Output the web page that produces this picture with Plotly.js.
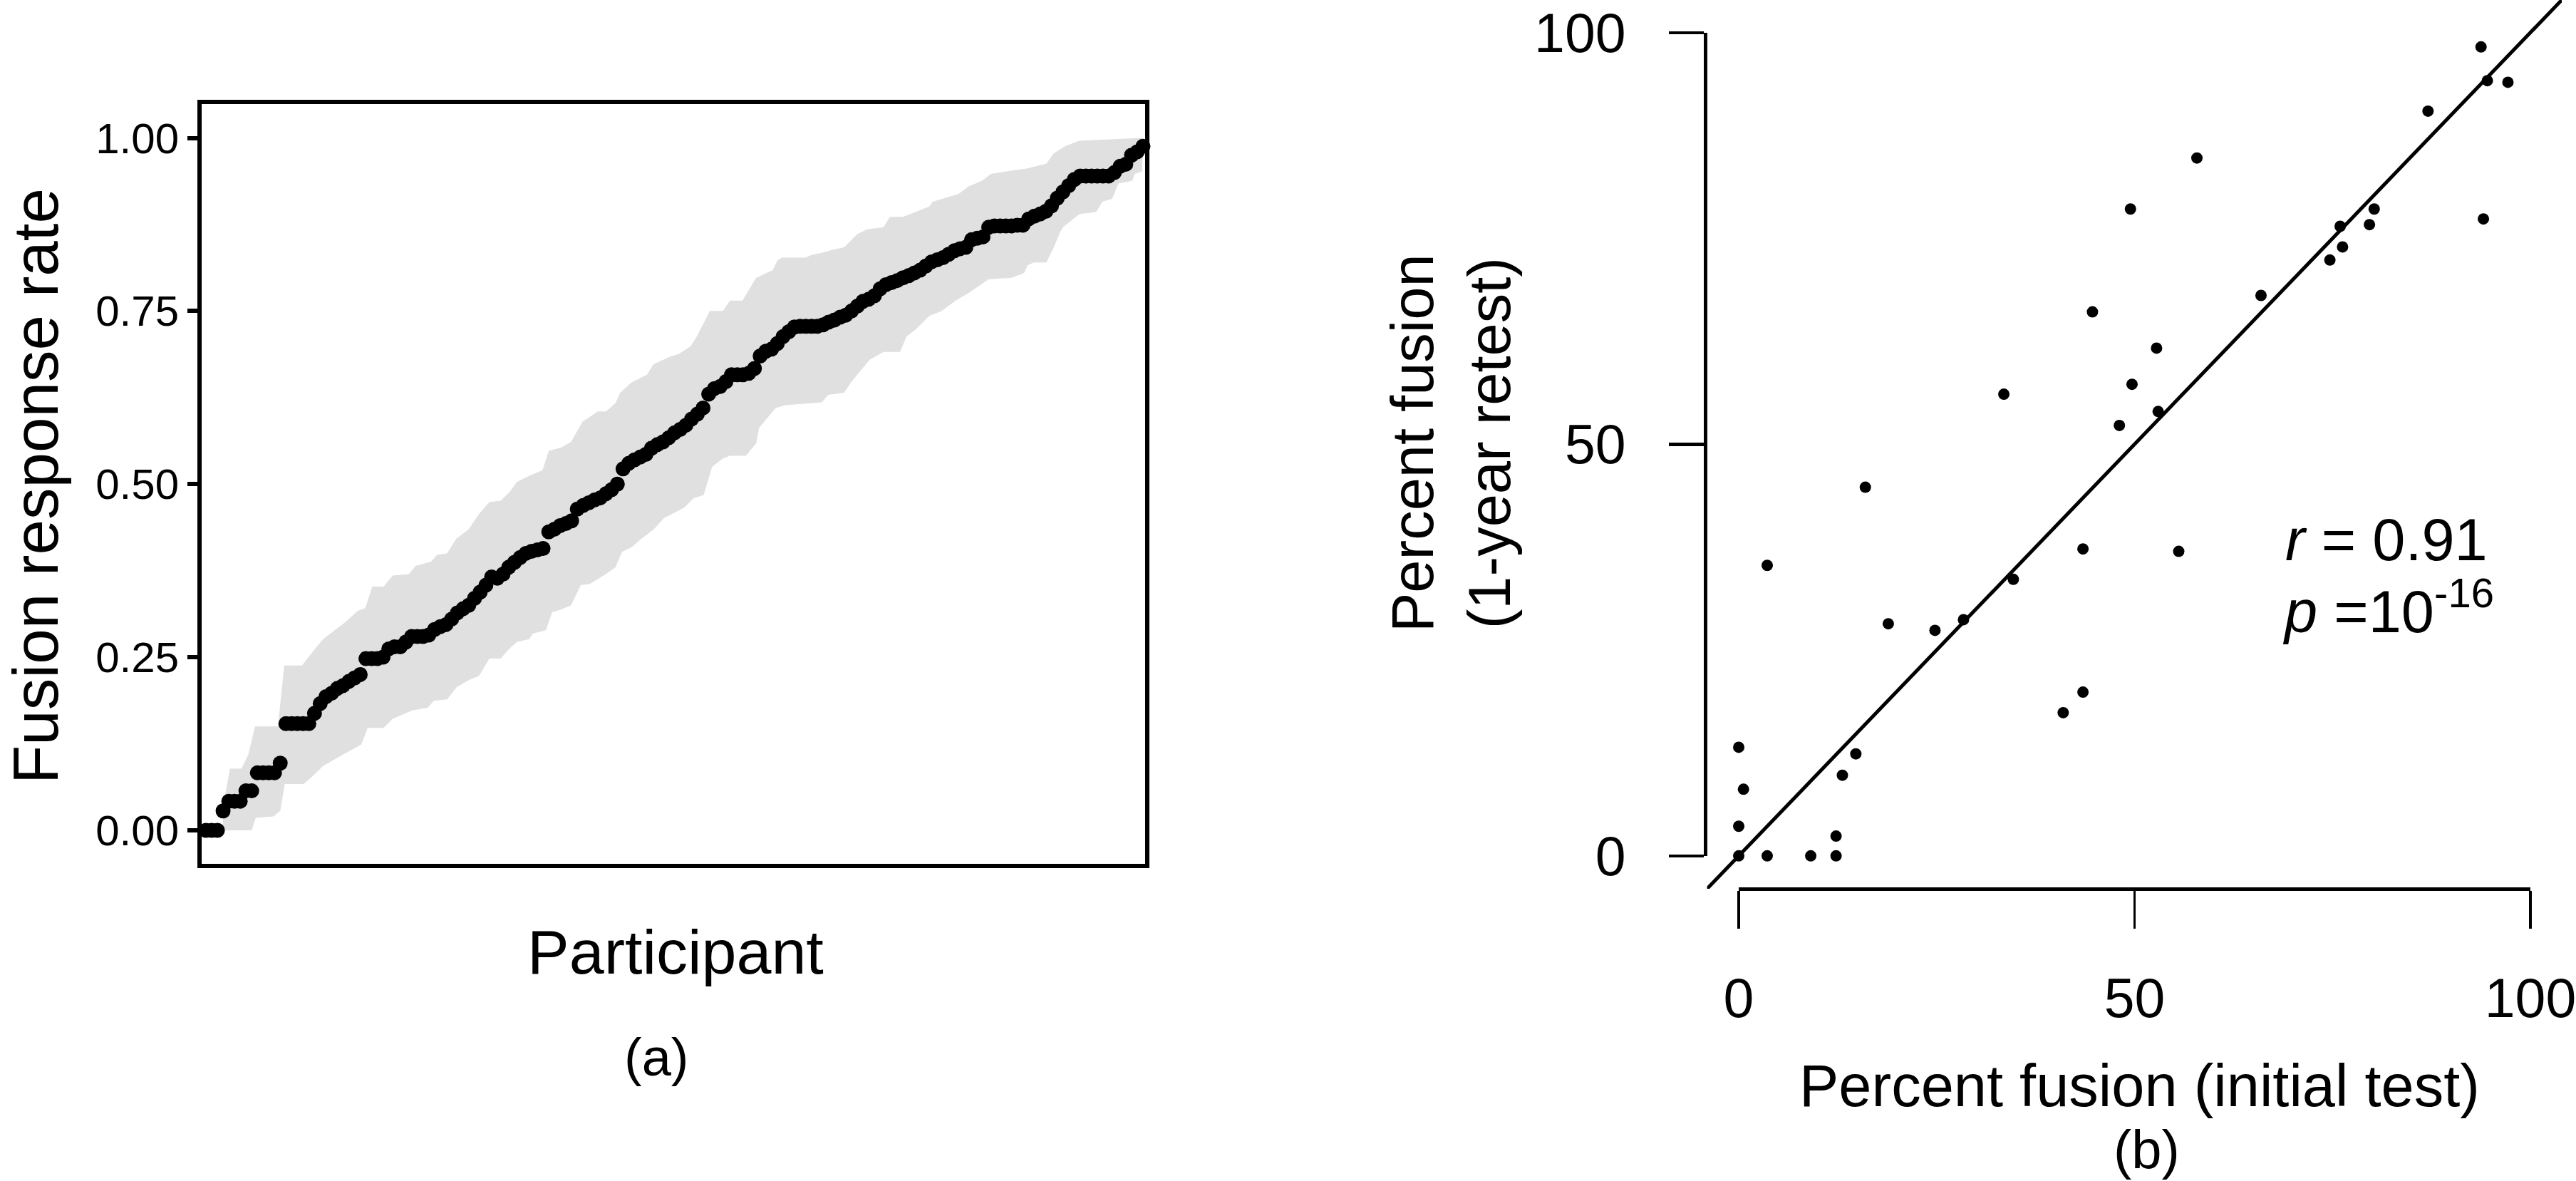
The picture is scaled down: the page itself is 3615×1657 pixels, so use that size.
<!DOCTYPE html>
<html>
<head>
<meta charset="utf-8">
<script src="https://cdn.plot.ly/plotly-3.0.1.min.js"></script>
<style>
  html, body { margin: 0; padding: 0; background: #ffffff; }
  #chart { width: 3615px; height: 1657px; }
</style>
</head>
<body>
<div id="chart"></div>
<script>
// (a) sorted fusion response rate, one value per participant
const participantRate = [
  0.000, 0.000, 0.000, 0.028, 0.042, 0.042, 0.042, 0.057, 0.057, 0.083,
  0.083, 0.083, 0.083, 0.097, 0.154, 0.154, 0.154, 0.154, 0.154, 0.169,
  0.183, 0.193, 0.198, 0.205, 0.209, 0.215, 0.220, 0.225, 0.248, 0.248,
  0.248, 0.250, 0.262, 0.265, 0.265, 0.272, 0.280, 0.280, 0.280, 0.282,
  0.290, 0.294, 0.297, 0.305, 0.314, 0.320, 0.325, 0.335, 0.344, 0.354,
  0.366, 0.364, 0.370, 0.380, 0.387, 0.394, 0.400, 0.403, 0.405, 0.407,
  0.431, 0.435, 0.440, 0.443, 0.447, 0.464, 0.469, 0.473, 0.477, 0.480,
  0.486, 0.492, 0.500, 0.522, 0.530, 0.535, 0.539, 0.543, 0.552, 0.557,
  0.561, 0.567, 0.574, 0.579, 0.585, 0.594, 0.601, 0.610, 0.630, 0.638,
  0.641, 0.648, 0.658, 0.658, 0.658, 0.660, 0.667, 0.685, 0.692, 0.695,
  0.703, 0.713, 0.720, 0.727, 0.728, 0.728, 0.728, 0.728, 0.730, 0.734,
  0.737, 0.741, 0.744, 0.750, 0.757, 0.764, 0.767, 0.772, 0.782, 0.788,
  0.791, 0.794, 0.798, 0.801, 0.805, 0.809, 0.815, 0.821, 0.824, 0.827,
  0.832, 0.837, 0.840, 0.842, 0.853, 0.855, 0.857, 0.871, 0.873, 0.873,
  0.873, 0.873, 0.874, 0.874, 0.883, 0.887, 0.890, 0.894, 0.902, 0.913,
  0.922, 0.931, 0.940, 0.945, 0.945, 0.945, 0.945, 0.945, 0.945, 0.950,
  0.959, 0.962, 0.975, 0.980, 0.988
];

// (a) grey confidence band, upper and lower edges (participant index, rate)
const bandUpperIdx = [
  4.0, 4.6, 5.2, 7.2, 8.4, 9.6, 13.6, 14.7, 17.8, 19.5, 21.5, 25.3, 27.6, 28.9,
  30.1, 32.1, 33.7, 36.5, 37.7, 40.4, 41.5, 43.2, 44.8, 47.0, 48.8, 50.6, 52.6,
  54.2, 55.4, 57.6, 59.9, 61.0, 63.2, 64.9, 66.9, 69.6, 71.0, 72.7, 73.5, 75.5,
  78.2, 79.3, 82.2, 83.8, 85.8, 86.9, 89.2, 91.5, 92.7, 94.9, 97.3, 98.4, 100.2,
  101.0, 101.8, 105.9, 107.0, 109.3, 110.4, 112.7, 115.0, 116.7, 119.6, 120.7,
  123.0, 127.6, 128.2, 131.1, 132.7, 134.5, 136.8, 138.4, 141.3, 144.8, 148.1,
  149.4, 151.6, 153.9, 159.6, 164.9
];
const bandUpperRate = [
  0.035, 0.061, 0.089, 0.089, 0.109, 0.150, 0.150, 0.238, 0.238, 0.256, 0.276,
  0.300, 0.317, 0.321, 0.352, 0.352, 0.368, 0.370, 0.382, 0.388, 0.398, 0.400,
  0.421, 0.435, 0.457, 0.474, 0.476, 0.489, 0.503, 0.512, 0.520, 0.548, 0.553,
  0.561, 0.590, 0.605, 0.605, 0.617, 0.632, 0.647, 0.658, 0.673, 0.684, 0.688,
  0.699, 0.713, 0.750, 0.750, 0.765, 0.765, 0.798, 0.802, 0.809, 0.823, 0.827,
  0.827, 0.831, 0.835, 0.838, 0.842, 0.861, 0.868, 0.871, 0.886, 0.886, 0.901,
  0.908, 0.915, 0.919, 0.930, 0.938, 0.948, 0.952, 0.956, 0.963, 0.978, 0.989,
  0.996, 0.998, 1.000
];
const bandLowerIdx = [
  4.0, 9.0, 9.7, 12.8, 14.0, 14.8, 18.1, 19.5, 21.5, 25.3, 28.2, 29.3, 32.1,
  33.7, 37.0, 39.8, 40.9, 43.2, 44.9, 47.0, 48.8, 50.6, 52.6, 53.8, 55.4, 57.6,
  58.2, 60.5, 61.6, 63.2, 64.9, 66.6, 68.2, 71.0, 72.7, 73.8, 75.5, 77.2, 79.4,
  81.2, 84.7, 86.4, 88.1, 89.6, 91.5, 92.7, 95.5, 97.3, 97.8, 100.7, 102.4,
  108.8, 109.9, 112.7, 113.9, 117.2, 119.6, 122.5, 123.6, 125.3, 127.6, 129.8,
  132.2, 134.5, 138.0, 142.0, 144.2, 144.8, 145.9, 148.1, 149.4, 150.5, 151.0,
  153.9, 156.8, 157.9, 159.6, 160.7, 163.1, 163.6, 164.9
];
const bandLowerRate = [
  0.000, 0.000, 0.018, 0.020, 0.028, 0.067, 0.067, 0.077, 0.093, 0.111, 0.124,
  0.148, 0.148, 0.161, 0.173, 0.177, 0.187, 0.189, 0.207, 0.217, 0.223, 0.248,
  0.248, 0.260, 0.272, 0.276, 0.284, 0.289, 0.315, 0.319, 0.325, 0.354, 0.356,
  0.370, 0.380, 0.402, 0.409, 0.421, 0.435, 0.451, 0.466, 0.480, 0.484, 0.525,
  0.537, 0.541, 0.541, 0.559, 0.581, 0.610, 0.614, 0.618, 0.629, 0.632, 0.647,
  0.680, 0.691, 0.691, 0.713, 0.724, 0.743, 0.750, 0.765, 0.776, 0.796, 0.798,
  0.805, 0.816, 0.820, 0.820, 0.842, 0.864, 0.871, 0.890, 0.893, 0.908, 0.912,
  0.934, 0.938, 0.948, 0.952
];

const rateTicks = [0, 0.25, 0.5, 0.75, 1];
const rateTickText = ["0.00", "0.25", "0.50", "0.75", "1.00"];

// (b) percent fusion, initial test vs 1-year retest
const initialTest = [
  49.5, 44.7, 33.5, 49.7, 48.1, 93.8, 94.6, 97.2, 87.1, 57.9,
  80.3, 76.0, 79.7, 76.3, 74.7, 94.1, 66.0, 52.8, 53.0, 16.0,
  3.6, 18.9, 24.8, 28.4, 34.7, 43.5, 43.5, 41.0, 0.0, 14.8,
  13.1, 0.6, 0.0, 12.3, 0.0, 3.6, 9.1, 12.3, 55.6
];
const retest = [
  78.6, 66.1, 56.1, 57.3, 52.3, 98.3, 94.2, 94.0, 90.5, 84.8,
  78.6, 76.5, 76.7, 74.0, 72.4, 77.4, 68.1, 61.7, 54.0, 44.8,
  35.3, 28.2, 27.4, 28.7, 33.6, 37.3, 19.9, 17.4, 13.2, 12.4,
  9.8, 8.1, 3.6, 2.4, 0.0, 0.0, 0.0, 0.0, 37.0
];

const percentTicks = [0, 50, 100];
const refSlope = 1;
const refIntercept = 0;
const refExtent = [-4, 104];

const W = 3615;
const H = 1657;
const px = (x) => x / W;
const py = (y) => (H - y) / H;

const FONT = "Liberation Sans, Arial, Helvetica, sans-serif";

const participantIdx = participantRate.map((_, i) => i + 1);

const bandX = bandUpperIdx.concat(bandLowerIdx.slice().reverse());
const bandY = bandUpperRate.concat(bandLowerRate.slice().reverse());

const traces = [
  {
    type: "scatter",
    mode: "lines",
    x: bandX,
    y: bandY,
    fill: "toself",
    fillcolor: "#e0e0e0",
    line: { width: 0, color: "#e0e0e0" },
    hoverinfo: "skip",
    showlegend: false,
    xaxis: "x",
    yaxis: "y"
  },
  {
    type: "scatter",
    mode: "markers",
    x: participantIdx,
    y: participantRate,
    marker: { size: 21, color: "#000000" },
    cliponaxis: false,
    showlegend: false,
    xaxis: "x",
    yaxis: "y"
  },
  {
    type: "scatter",
    mode: "lines",
    x: refExtent,
    y: refExtent.map((v) => refSlope * v + refIntercept),
    line: { color: "#000000", width: 5 },
    hoverinfo: "skip",
    showlegend: false,
    xaxis: "x2",
    yaxis: "y2"
  },
  {
    type: "scatter",
    mode: "markers",
    x: initialTest,
    y: retest,
    marker: { size: 16, color: "#000000" },
    cliponaxis: false,
    showlegend: false,
    xaxis: "x2",
    yaxis: "y2"
  },
  {
    type: "scatter",
    mode: "markers",
    x: [],
    y: [],
    showlegend: false,
    hoverinfo: "skip",
    xaxis: "x3",
    yaxis: "y3"
  }
];

const hidden = {
  showline: false,
  showgrid: false,
  zeroline: false,
  showticklabels: false,
  ticks: ""
};

const layout = {
  width: W,
  height: H,
  autosize: false,
  margin: { l: 0, r: 0, t: 0, b: 0, pad: 0 },
  paper_bgcolor: "#ffffff",
  plot_bgcolor: "rgba(0,0,0,0)",
  font: { family: FONT, color: "#000000" },
  showlegend: false,

  xaxis: {
    ...hidden,
    domain: [px(283), px(1607)],
    range: [0.25, 165.38],
    showline: true,
    mirror: true,
    linecolor: "#000000",
    linewidth: 6,
    anchor: "y"
  },
  yaxis: {
    domain: [py(1212), py(146)],
    range: [-0.0484, 1.0489],
    showline: true,
    mirror: true,
    linecolor: "#000000",
    linewidth: 6,
    showgrid: false,
    zeroline: false,
    tickmode: "array",
    tickvals: rateTicks,
    ticktext: rateTickText,
    ticks: "outside",
    ticklen: 14,
    tickwidth: 6,
    tickcolor: "#000000",
    ticklabelstandoff: 0,
    tickfont: { family: FONT, size: 60, color: "#000000" },
    anchor: "x"
  },

  xaxis2: {
    ...hidden,
    domain: [px(2395.6), px(3595)],
    range: refExtent,
    anchor: "y2"
  },
  yaxis2: {
    ...hidden,
    domain: [py(1247), py(0)],
    range: refExtent,
    anchor: "x2"
  },

  xaxis3: {
    domain: [px(2440), px(3551)],
    range: [0, 100],
    anchor: "free",
    position: py(1247),
    showline: true,
    linecolor: "#000000",
    linewidth: 5,
    showgrid: false,
    zeroline: false,
    tickmode: "array",
    tickvals: percentTicks,
    ticks: "outside",
    ticklen: 53,
    tickwidth: 3.5,
    tickcolor: "#000000",
    ticklabelstandoff: 32,
    ticklabeloverflow: "allow",
    tickfont: { family: FONT, size: 77, color: "#000000" }
  },
  yaxis3: {
    domain: [py(1201), py(46)],
    range: [0, 100],
    anchor: "free",
    position: px(2393),
    showline: true,
    linecolor: "#000000",
    linewidth: 4.5,
    showgrid: false,
    zeroline: false,
    tickmode: "array",
    tickvals: percentTicks,
    ticks: "outside",
    ticklen: 49,
    tickwidth: 4.5,
    tickcolor: "#000000",
    ticklabelstandoff: 45,
    ticklabeloverflow: "allow",
    tickfont: { family: FONT, size: 77, color: "#000000" }
  },

  annotations: [
    {
      text: "Fusion response rate",
      xref: "paper", yref: "paper",
      x: px(50), y: py(682),
      textangle: -90,
      showarrow: false,
      xanchor: "center", yanchor: "middle",
      font: { family: FONT, size: 89, color: "#000000" }
    },
    {
      text: "Participant",
      xref: "paper", yref: "paper",
      x: px(948), y: py(1335),
      showarrow: false,
      xanchor: "center", yanchor: "middle",
      font: { family: FONT, size: 88, color: "#000000" }
    },
    {
      text: "(a)",
      xref: "paper", yref: "paper",
      x: px(921), y: py(1483),
      showarrow: false,
      xanchor: "center", yanchor: "middle",
      font: { family: FONT, size: 74, color: "#000000" }
    },
    {
      text: "Percent fusion<br>(1-year retest)",
      xref: "paper", yref: "paper",
      x: px(2036), y: py(622),
      textangle: -90,
      showarrow: false,
      xanchor: "center", yanchor: "middle",
      font: { family: FONT, size: 83, color: "#000000" }
    },
    {
      text: "Percent fusion (initial test)",
      xref: "paper", yref: "paper",
      x: px(3002), y: py(1523),
      showarrow: false,
      xanchor: "center", yanchor: "middle",
      font: { family: FONT, size: 83, color: "#000000" }
    },
    {
      text: "(b)",
      xref: "paper", yref: "paper",
      x: px(3012), y: py(1612),
      showarrow: false,
      xanchor: "center", yanchor: "middle",
      font: { family: FONT, size: 76, color: "#000000" }
    },
    {
      text: "<i>r</i> = 0.91",
      xref: "paper", yref: "paper",
      x: px(3205), y: py(758),
      showarrow: false,
      xanchor: "left", yanchor: "middle",
      font: { family: FONT, size: 83, color: "#000000" }
    },
    {
      text: "<i>p</i> =10<sup>-16</sup>",
      xref: "paper", yref: "paper",
      x: px(3201), y: py(852),
      showarrow: false,
      xanchor: "left", yanchor: "middle",
      font: { family: FONT, size: 83, color: "#000000" }
    }
  ]
};

Plotly.newPlot("chart", traces, layout, {
  displayModeBar: false,
  staticPlot: true
});
</script>
</body>
</html>
